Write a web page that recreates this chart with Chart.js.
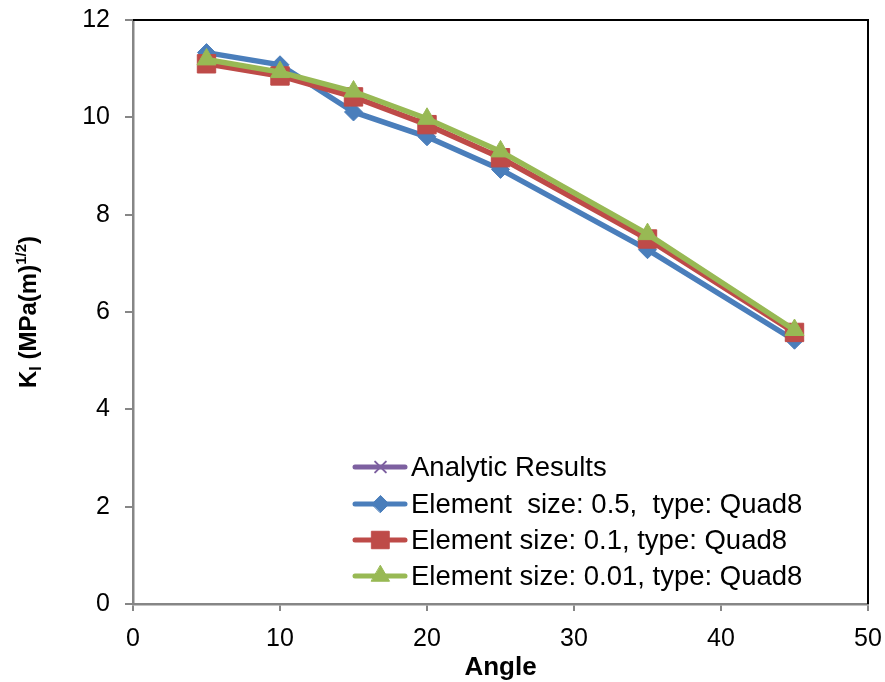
<!DOCTYPE html>
<html>
<head>
<meta charset="utf-8">
<script src="https://cdn.jsdelivr.net/npm/chart.js@4.4.1/dist/chart.umd.min.js"></script>
<style>
  html, body { margin: 0; padding: 0; background: #fff; }
  #wrap { width: 885px; height: 682px; }
</style>
</head>
<body>
<div id="wrap"><canvas id="chart" width="885" height="682"></canvas></div>
<script>
// angles (deg) and K_I values
const angles = [5, 10, 15, 20, 25, 35, 45]
const analytic = []  // not visible in the plot
const quad8_05 = [11.33, 11.08, 10.11, 9.60, 8.93, 7.28, 5.42]
const quad8_01 = [11.10, 10.85, 10.42, 9.85, 9.17, 7.50, 5.58]
const quad8_001 = [11.19, 10.93, 10.53, 9.97, 9.30, 7.60, 5.63]
const xTicks = [0, 10, 20, 30, 40, 50]
const yTicks = [0, 2, 4, 6, 8, 10, 12]

const FONT = "'Liberation Sans', Arial, sans-serif"
const AXIS_GRAY = "#868686"

const pts = (ys) => ys.map((y, i) => ({ x: angles[i], y: y }))

const series = [
  { label: "Analytic Results", data: pts(analytic), color: "#7d60a0", style: "crossRot", radius: 8, order: 3 },
  { label: "Element  size: 0.5,  type: Quad8", data: pts(quad8_05), color: "#4a7ebb", style: "rectRot", radius: 9, order: 2 },
  { label: "Element size: 0.1, type: Quad8", data: pts(quad8_01), color: "#be4b48", style: "rect", radius: 13, order: 1 },
  { label: "Element size: 0.01, type: Quad8", data: pts(quad8_001), color: "#98b954", style: "triangle", radius: 11, order: 0 }
]

// legend drawn inside the plot, plus top/right frame and axis titles
const extras = {
  id: "extras",
  afterDraw(chart) {
    const ctx = chart.ctx
    const a = chart.chartArea
    ctx.save()

    // black frame on top and right
    ctx.strokeStyle = "#000"
    ctx.lineWidth = 2
    ctx.beginPath()
    ctx.moveTo(a.left, a.top)
    ctx.lineTo(a.right, a.top)
    ctx.lineTo(a.right, a.bottom)
    ctx.stroke()

    // legend
    const rows = [467, 504, 540, 576]
    ctx.font = "27.5px " + FONT
    ctx.textBaseline = "middle"
    ctx.textAlign = "left"
    series.forEach((s, i) => {
      const y = rows[i]
      ctx.strokeStyle = s.color
      ctx.lineWidth = 5
      ctx.lineCap = "round"
      ctx.beginPath()
      ctx.moveTo(355, y)
      ctx.lineTo(405, y)
      ctx.stroke()
      ctx.fillStyle = s.color
      ctx.strokeStyle = s.color
      ctx.lineWidth = s.style === "crossRot" ? 2 : 1
      Chart.helpers.drawPoint(ctx, { pointStyle: s.style, radius: s.radius * 0.95, borderWidth: ctx.lineWidth }, 380.5, y)
      ctx.fillStyle = "#000"
      ctx.fillText(s.label, 411, y + 1)
    })

    // x title
    ctx.fillStyle = "#000"
    ctx.font = "bold 26px " + FONT
    ctx.textAlign = "center"
    ctx.textBaseline = "alphabetic"
    ctx.fillText("Angle", (a.left + a.right) / 2, 675)

    // y title with subscript / superscript
    const parts = [
      { t: "K", size: 24, dy: 0 },
      { t: "I", size: 16, dy: 5 },
      { t: " (MPa(m)", size: 24, dy: 0 },
      { t: "1/2", size: 15, dy: -10 },
      { t: ")", size: 24, dy: 0 }
    ]
    let total = 0
    parts.forEach((p) => {
      ctx.font = "bold " + p.size + "px " + FONT
      p.w = ctx.measureText(p.t).width
      total += p.w
    })
    ctx.translate(36, (a.top + a.bottom) / 2)
    ctx.rotate(-Math.PI / 2)
    ctx.textAlign = "left"
    let x = -total / 2
    parts.forEach((p) => {
      ctx.font = "bold " + p.size + "px " + FONT
      ctx.fillText(p.t, x, p.dy)
      x += p.w
    })
    ctx.restore()
  }
}

new Chart(document.getElementById("chart"), {
  type: "line",
  data: {
    datasets: series.map((s) => ({
      label: s.label,
      data: s.data,
      order: s.order,
      borderColor: s.color,
      backgroundColor: s.color,
      borderWidth: 5.5,
      pointStyle: s.style,
      pointRadius: s.radius,
      pointBorderWidth: 1,
      pointBackgroundColor: s.color,
      pointBorderColor: s.color,
      tension: 0,
      fill: false
    }))
  },
  options: {
    responsive: false,
    animation: false,
    devicePixelRatio: 1,
    layout: { padding: { top: 20, right: 17, left: 0, bottom: 0 } },
    plugins: {
      legend: { display: false },
      tooltip: { enabled: false }
    },
    scales: {
      x: {
        type: "linear",
        min: 0,
        max: 50,
        afterFit: (s) => { s.height = 78; s.paddingLeft = 0; s.paddingRight = 0 },
        afterBuildTicks: (s) => { s.ticks = xTicks.map((v) => ({ value: v })) },
        grid: { drawOnChartArea: false, drawTicks: true, tickLength: 7, color: AXIS_GRAY, lineWidth: 2 },
        border: { display: true, color: AXIS_GRAY, width: 2.5 },
        ticks: { color: "#000", font: { family: FONT, size: 25 }, padding: 13, maxRotation: 0 }
      },
      y: {
        min: 0,
        max: 12,
        afterFit: (s) => { s.width = 133; s.paddingTop = 0; s.paddingBottom = 0 },
        afterBuildTicks: (s) => { s.ticks = yTicks.map((v) => ({ value: v })) },
        grid: { drawOnChartArea: false, drawTicks: true, tickLength: 8, color: AXIS_GRAY, lineWidth: 2 },
        border: { display: true, color: AXIS_GRAY, width: 2.5 },
        ticks: { color: "#000", font: { family: FONT, size: 25 }, padding: 15 }
      }
    }
  },
  plugins: [extras]
})
</script>
</body>
</html>
